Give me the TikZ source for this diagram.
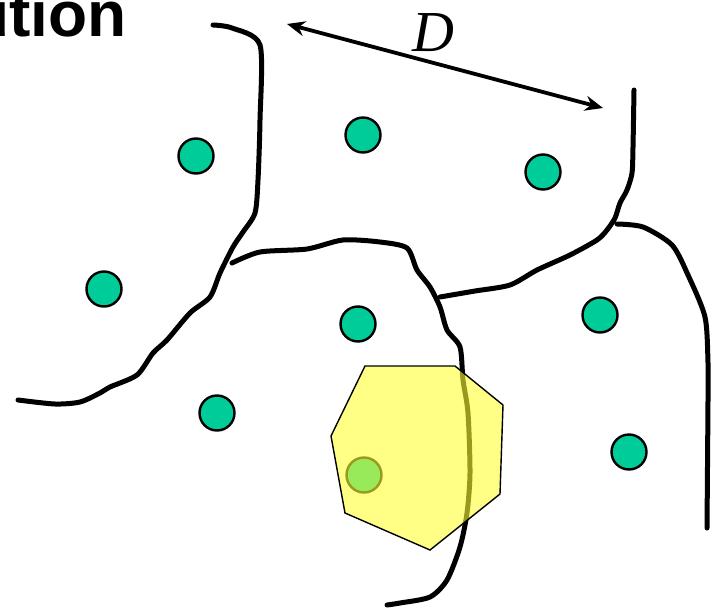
\documentclass[tikz,border=0pt]{standalone}
\usepackage{fontspec}
\newfontfamily\headfont{Liberation Sans}
\newfontfamily\labelfont{Liberation Serif}
\usetikzlibrary{arrows.meta}
\definecolor{seedteal}{HTML}{00CC99}
\definecolor{polyyellow}{HTML}{FFFF33}
\tikzset{
  boundary/.style={line width=5pt, line join=round, line cap=round},
  seed/.style={circle, draw=black, line width=2.4pt, fill=seedteal, minimum size=35pt, inner sep=0pt},
  query/.style={draw=black, line width=1.4pt, fill=polyyellow, fill opacity=0.6, line join=miter},
  darrow/.style={line width=3.8pt, {Stealth[length=18pt,width=15pt]}-{Stealth[length=18pt,width=15pt]}}
}
\begin{document}
\begin{tikzpicture}[x=1pt,y=-1pt]
\useasboundingbox (0,0) rectangle (717,610);

% title fragment
\node[anchor=base east, inner sep=0pt, font=\headfont\bfseries\fontsize{64}{70}\selectfont] (title) at (127,37) {ution};

% boundaries
\draw[boundary] plot[smooth, tension=0.45] coordinates {(213,25) (232,28) (260,45) (260,120) (258,180) (255,213) (243,232) (233,247) (220,273) (210,297) (190,313) (167,340) (153,353) (137,375) (110,387) (100,393) (80,402) (55,404) (18,400)};
\draw[boundary] plot[smooth, tension=0.45] coordinates {(232,263) (260,252) (307,249) (343,240) (380,242) (407,248) (417,270) (430,287) (440,307) (447,330) (460,347) (463,380) (468,413) (470,473) (467,513) (460,547) (447,580) (430,597) (400,603) (387,605)};
\draw[boundary] plot[smooth, tension=0.45] coordinates {(440,297) (475,291) (510,285) (537,270) (570,255) (597,240) (607,230) (615,218) (620,203) (627,190) (632,173) (633,147) (634,90)};
\draw[boundary] plot[smooth, tension=0.45] coordinates {(617,224) (643,227) (672,245) (688,275) (705,317) (708,363) (708,400) (707,528)};

% seeds
\node[seed] (s1) at (196,156) {};
\node[seed] (s2) at (363,135) {};
\node[seed] (s3) at (543,172) {};
\node[seed] (s4) at (104,289) {};
\node[seed] (s5) at (358,324) {};
\node[seed] (s6) at (600,315) {};
\node[seed] (s7) at (217,413) {};
\node[seed] (s8) at (629,452) {};
\node[seed] (s9) at (364,475) {};

% query polygon (semi-transparent)
\draw[query] (365,366) -- (455,366) -- (503,405) -- (500,494) -- (430,550) -- (345,513) -- (331,436) -- cycle;

% distance arrow
\coordinate (dL) at (287,24);
\coordinate (dR) at (603,108);
\draw[darrow] (dL) -- (dR);
\node[anchor=base, inner sep=0pt, font=\labelfont\itshape\fontsize{58}{62}\selectfont] (dlab) at (433,52) {D};
\end{tikzpicture}
\end{document}
